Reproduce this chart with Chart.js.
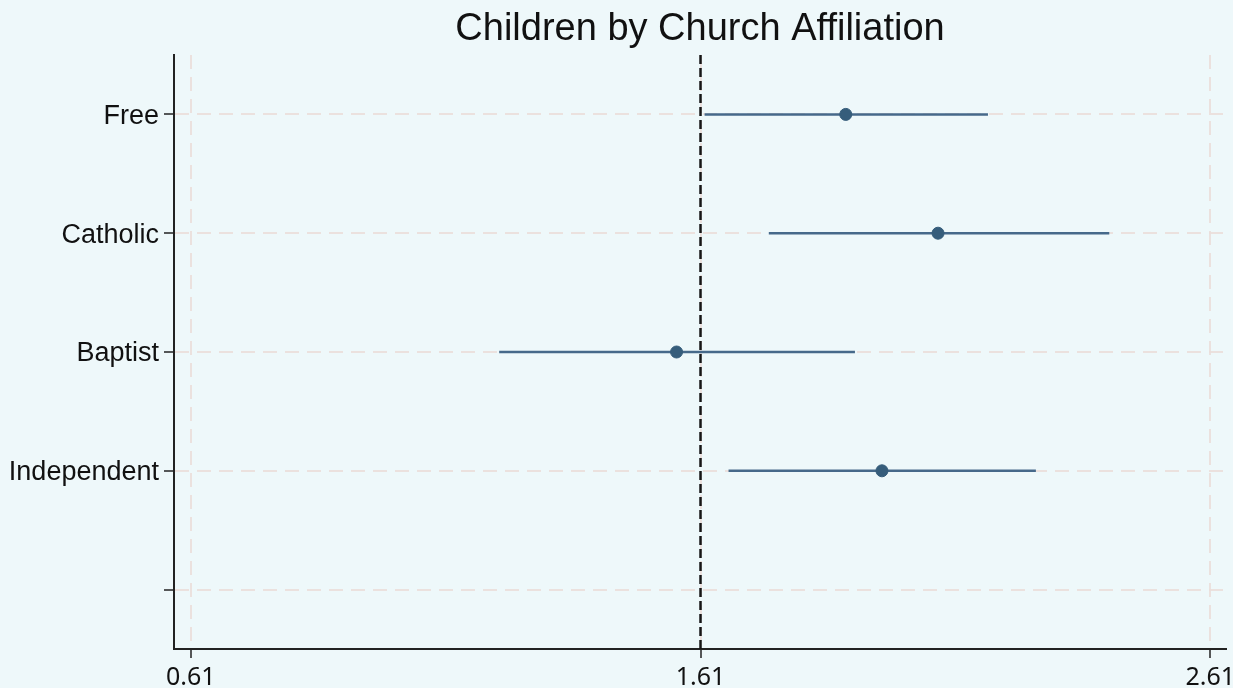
<!DOCTYPE html>
<html>
<head>
<meta charset="utf-8">
<title>Children by Church Affiliation</title>
<script src="https://cdn.jsdelivr.net/npm/chart.js@4/dist/chart.umd.min.js"></script>
<style>
  html, body { margin: 0; padding: 0; background: #eef8fa; }
  canvas { display: block; }
</style>
</head>
<body>
<canvas id="chart" width="1233" height="688"></canvas>
<script>
// Données
const titleText = 'Children by Church Affiliation';
const categories = ['Free', 'Catholic', 'Baptist', 'Independent'];
const estimates = [1.895, 2.076, 1.563, 1.966];
const lower = [1.618, 1.744, 1.215, 1.665];
const upper = [2.174, 2.412, 1.913, 2.268];
const xTicks = [0.61, 1.61, 2.61];
const refValue = 1.61;

// Ligne vide en bas (5e position sur l'axe y)
const yLabels = categories.concat(['']);

// Fond + titre centré sur la zone du graphique
const decorPlugin = {
  id: 'decor',
  beforeDraw(chart) {
    const c = chart.ctx;
    c.save();
    c.fillStyle = '#eef8fa';
    c.fillRect(0, 0, chart.width, chart.height);
    c.restore();
  },
  afterDraw(chart) {
    const c = chart.ctx;
    const area = chart.chartArea;
    c.save();
    c.fillStyle = '#111';
    c.font = '38px "Liberation Sans", Arial, sans-serif';
    c.textAlign = 'center';
    c.textBaseline = 'alphabetic';
    c.fillText(titleText, (area.left + area.right) / 2, 40);
    c.restore();
  }
};

// Intervalles de confiance (un segment par catégorie)
const ciSets = categories.map((cat, i) => ({
  type: 'line',
  label: cat,
  data: [{ x: lower[i], y: i }, { x: upper[i], y: i }],
  borderColor: '#46698a',
  borderWidth: 2.5,
  pointRadius: 0,
  order: 2
}));

const gridColor = 'rgba(234,222,218,0.9)';

const ctx = document.getElementById('chart').getContext('2d');
new Chart(ctx, {
  type: 'scatter',
  data: {
    datasets: [
      {
        label: 'Estimation',
        data: estimates.map((v, i) => ({ x: v, y: i })),
        backgroundColor: '#365d7b',
        borderColor: '#365d7b',
        pointRadius: 6,
        pointHoverRadius: 6,
        order: 0
      },
      {
        type: 'line',
        label: 'Référence',
        data: [{ x: refValue, y: -0.5 }, { x: refValue, y: 4.5 }],
        borderColor: '#161616',
        borderWidth: 2.5,
        borderDash: [9, 4],
        pointRadius: 0,
        order: 1
      },
      ...ciSets
    ]
  },
  options: {
    responsive: false,
    animation: false,
    layout: { padding: { left: 0, right: 7, top: 55, bottom: 0 } },
    plugins: {
      legend: { display: false },
      tooltip: { enabled: false },
      title: { display: false }
    },
    scales: {
      x: {
        type: 'linear',
        min: 0.577,
        max: 2.641,
        afterBuildTicks: (scale) => { scale.ticks = xTicks.map(v => ({ value: v })); },
        afterFit: (scale) => { scale.height = 39; scale.paddingLeft = 0; scale.paddingRight = 0; },
        ticks: {
          color: '#111',
          padding: 5,
          maxRotation: 0,
          font: { family: 'Noto Sans, sans-serif', size: 25 },
          callback: (v) => v.toFixed(2)
        },
        grid: {
          color: gridColor,
          lineWidth: 2,
          tickColor: '#222',
          tickLength: 9,
          tickWidth: 1.5
        },
        border: { color: '#222', width: 2, dash: [14, 8] }
      },
      y: {
        type: 'linear',
        min: -0.5,
        max: 4.5,
        reverse: true,
        afterBuildTicks: (scale) => { scale.ticks = yLabels.map((l, i) => ({ value: i })); },
        afterFit: (scale) => { scale.width = 174; },
        ticks: {
          color: '#111',
          padding: 5,
          labelOffset: 2,
          font: { family: 'Liberation Sans, Arial, sans-serif', size: 27 },
          callback: (v) => yLabels[v]
        },
        grid: {
          color: gridColor,
          lineWidth: 2,
          tickColor: '#222',
          tickLength: 10,
          tickWidth: 1.5
        },
        border: { color: '#222', width: 2, dash: [14, 8] }
      }
    }
  },
  plugins: [decorPlugin]
});
</script>
</body>
</html>
